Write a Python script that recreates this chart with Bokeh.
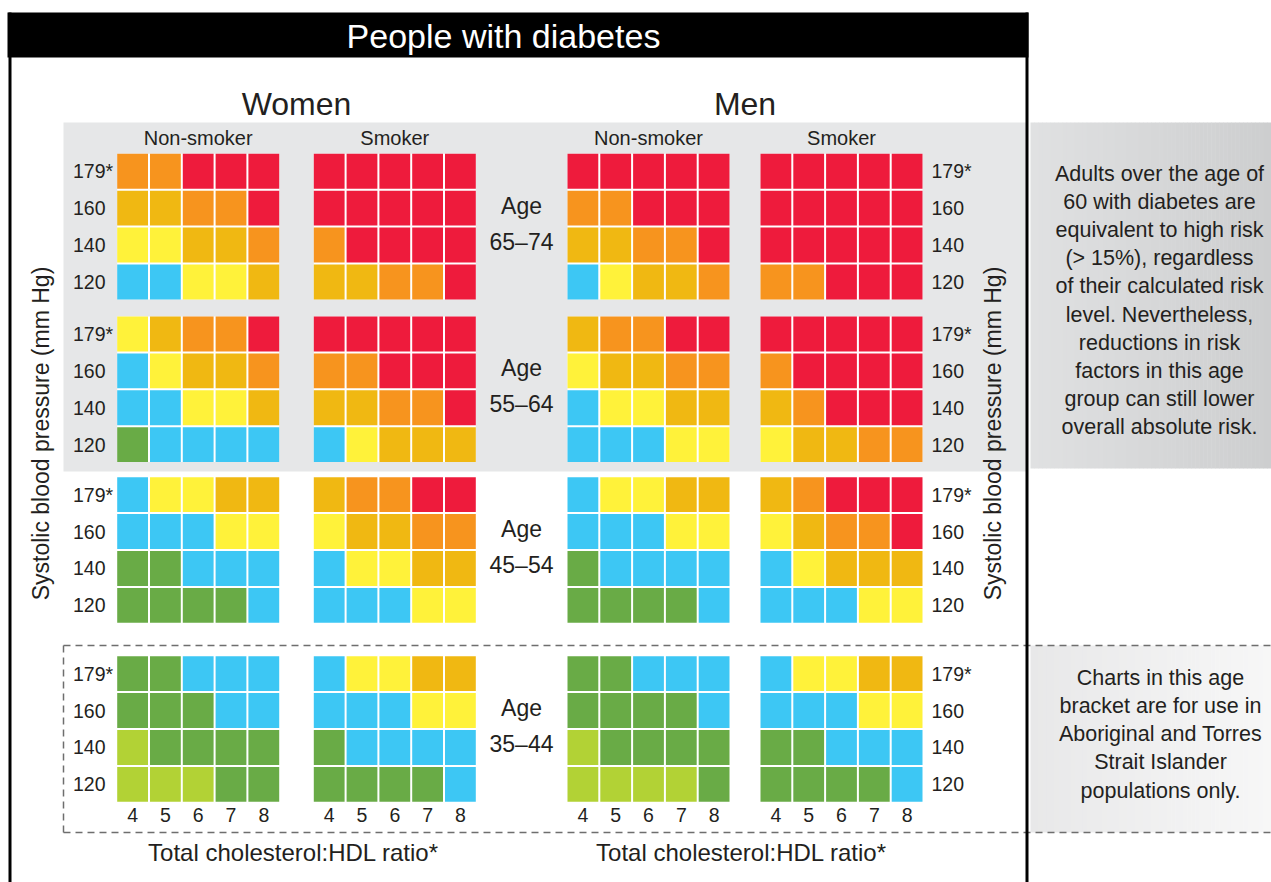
import numpy as np
from bokeh.plotting import figure
from bokeh.models import ColumnDataSource, Range1d
from bokeh.embed import file_html
from bokeh.resources import INLINE
from bokeh.core.properties import value

# ---------------- data ----------------
ages = ["65–74", "55–64", "45–54", "35–44"]
sexes = ["Women", "Men"]
smoking = ["Non-smoker", "Smoker"]
bp_labels = ["179*", "160", "140", "120"]
ratio_labels = ["4", "5", "6", "7", "8"]
# risk level index -> colour (0 lowest ... 6 highest)
risk_colors = ["#b2d235", "#69ab46", "#3dc7f4", "#fff23a", "#f0b812", "#f7941e", "#ee1b3c"]

# rows: 179*, 160, 140, 120 ; columns: ratio 4..8
women_ns_65 = [[5, 5, 6, 6, 6], [4, 4, 5, 5, 6], [3, 3, 4, 4, 5], [2, 2, 3, 3, 4]]
women_s_65 = [[6, 6, 6, 6, 6], [6, 6, 6, 6, 6], [5, 6, 6, 6, 6], [4, 4, 5, 5, 6]]
men_ns_65 = [[6, 6, 6, 6, 6], [5, 5, 6, 6, 6], [4, 4, 5, 5, 6], [2, 3, 4, 4, 5]]
men_s_65 = [[6, 6, 6, 6, 6], [6, 6, 6, 6, 6], [6, 6, 6, 6, 6], [5, 5, 6, 6, 6]]

women_ns_55 = [[3, 4, 5, 5, 6], [2, 3, 4, 4, 5], [2, 2, 3, 3, 4], [1, 2, 2, 2, 2]]
women_s_55 = [[6, 6, 6, 6, 6], [5, 5, 6, 6, 6], [4, 4, 5, 5, 6], [2, 3, 4, 4, 4]]
men_ns_55 = [[4, 5, 5, 6, 6], [3, 4, 4, 5, 5], [2, 3, 3, 4, 4], [2, 2, 2, 3, 3]]
men_s_55 = [[6, 6, 6, 6, 6], [5, 6, 6, 6, 6], [4, 5, 6, 6, 6], [3, 4, 4, 5, 5]]

women_ns_45 = [[2, 3, 3, 4, 4], [2, 2, 2, 3, 3], [1, 1, 2, 2, 2], [1, 1, 1, 1, 2]]
women_s_45 = [[4, 5, 5, 6, 6], [3, 4, 4, 5, 5], [2, 3, 3, 4, 4], [2, 2, 2, 3, 3]]
men_ns_45 = [[2, 3, 3, 4, 4], [2, 2, 2, 3, 3], [1, 2, 2, 2, 2], [1, 1, 1, 1, 2]]
men_s_45 = [[4, 5, 6, 6, 6], [3, 4, 5, 5, 6], [2, 3, 4, 4, 4], [2, 2, 2, 3, 3]]

women_ns_35 = [[1, 1, 2, 2, 2], [1, 1, 1, 2, 2], [0, 1, 1, 1, 1], [0, 0, 0, 1, 1]]
women_s_35 = [[2, 3, 3, 4, 4], [2, 2, 2, 3, 3], [1, 2, 2, 2, 2], [1, 1, 1, 1, 2]]
men_ns_35 = [[1, 1, 2, 2, 2], [1, 1, 1, 1, 2], [0, 1, 1, 1, 1], [0, 0, 0, 0, 1]]
men_s_35 = [[2, 3, 3, 4, 4], [2, 2, 2, 3, 3], [1, 1, 2, 2, 2], [1, 1, 1, 1, 2]]

panels = [
    [women_ns_65, women_s_65, men_ns_65, men_s_65],
    [women_ns_55, women_s_55, men_ns_55, men_s_55],
    [women_ns_45, women_s_45, men_ns_45, men_s_45],
    [women_ns_35, women_s_35, men_ns_35, men_s_35],
]

title = "People with diabetes"
y_title = "Systolic blood pressure (mm Hg)"
x_title = "Total cholesterol:HDL ratio*"
note_upper = ["Adults over the age of", "60 with diabetes are", "equivalent to high risk",
              "(> 15%), regardless", "of their calculated risk", "level. Nevertheless,",
              "reductions in risk", "factors in this age", "group can still lower",
              "overall absolute risk."]
note_lower = ["Charts in this age", "bracket are for use in", "Aboriginal and Torres",
              "Strait Islander", "populations only."]

# ---------------- layout ----------------
W, H = 1271, 882
FONT = value("Liberation Sans")
TXT = "#231f20"
panel_x = [116.7, 313.3, 567.0, 760.0]
panel_y = [153.3, 316.0, 476.7, 655.7]
PX, PY, GAP = 32.8, 36.9, 2.0


def Y(v):
    return -v


p = figure(width=W, height=H, x_range=Range1d(0, W), y_range=Range1d(-H, 0),
           output_backend="svg", toolbar_location=None, x_axis_location=None,
           y_axis_location=None, min_border=0, outline_line_color=None,
           background_fill_color="white", border_fill_color="white")
p.grid.visible = False

# grey band behind the older age groups
p.quad(left=[63], right=[1027], top=[Y(122)], bottom=[Y(471)], fill_color="#e6e7e8", line_color=None)


def gradient(x0, x1, y0, y1, c0, c1, n=60):
    c0 = np.array([int(c0[i:i + 2], 16) for i in (1, 3, 5)], float)
    c1 = np.array([int(c1[i:i + 2], 16) for i in (1, 3, 5)], float)
    xs = np.linspace(x0, x1, n + 1)
    cols = []
    for k in range(n):
        t = k / (n - 1)
        c = c0 + (c1 - c0) * t
        cols.append("#%02x%02x%02x" % tuple(int(round(v)) for v in c))
    p.quad(left=xs[:-1], right=xs[1:] + 0.5, top=[Y(y0)] * n, bottom=[Y(y1)] * n,
           fill_color=cols, line_color=None)


gradient(1030, 1271, 122, 468, "#e0e1e2", "#cdcecf")
gradient(1030, 1271, 645, 832, "#e8e8e9", "#f7f7f7")

# dashed box around 35-44
dash = dict(line_color="#6e6e6e", line_width=1.5, line_dash="7 5")
p.line(x=[63, 1271], y=[Y(645), Y(645)], **dash)
p.line(x=[63, 1271], y=[Y(832), Y(832)], **dash)
p.line(x=[63, 63], y=[Y(645), Y(832)], **dash)

# frame and header
p.quad(left=[7], right=[1028], top=[Y(12)], bottom=[Y(57)], fill_color="black", line_color=None)
p.line(x=[9.5, 9.5], y=[Y(12), Y(890)], line_color="black", line_width=3)
p.line(x=[1026.5, 1026.5], y=[Y(12), Y(890)], line_color="black", line_width=3)

# cells
bg = dict(left=[], right=[], top=[], bottom=[])
cells = dict(left=[], right=[], top=[], bottom=[], color=[])
for ai in range(len(ages)):
    for gi in range(4):
        grid = panels[ai][gi]
        x0, y0 = panel_x[gi], panel_y[ai]
        nr, nc = len(grid), len(grid[0])
        bg["left"].append(x0)
        bg["right"].append(x0 + (nc - 1) * PX + PX - GAP)
        bg["top"].append(Y(y0))
        bg["bottom"].append(Y(y0 + (nr - 1) * PY + PY - GAP))
        for r in range(nr):
            for c in range(nc):
                l = x0 + c * PX
                t = y0 + r * PY
                cells["left"].append(l)
                cells["right"].append(l + PX - GAP)
                cells["top"].append(Y(t))
                cells["bottom"].append(Y(t + PY - GAP))
                cells["color"].append(risk_colors[grid[r][c]])
p.quad(source=ColumnDataSource(bg), left="left", right="right", top="top", bottom="bottom",
       fill_color="white", line_color=None)
p.quad(source=ColumnDataSource(cells), left="left", right="right", top="top", bottom="bottom",
       fill_color="color", line_color=None)


def texts(xs, ys, labels, size, color=TXT, align="center", angle=0.0):
    p.text(x=xs, y=ys, text=labels, text_font=FONT, text_font_size=size, text_color=color,
           text_align=align, text_baseline="middle", angle=angle)


# title and headers
texts([503], [Y(35)], [title], "34px", color="white")
pw = 4 * PX + PX - GAP
texts([(panel_x[0] + panel_x[1] + pw) / 2, (panel_x[2] + panel_x[3] + pw) / 2], [Y(103), Y(103)], sexes, "32px")
texts([x + pw / 2 for x in panel_x], [Y(137)] * 4, smoking * 2, "20px")

# blood pressure labels
for ai in range(len(ages)):
    ys = [Y(panel_y[ai] + r * PY + (PY - GAP) / 2) for r in range(len(bp_labels))]
    texts([72.5] * 4, ys, bp_labels, "19.5px", align="left")
    texts([931] * 4, ys, bp_labels, "19.5px", align="left")
    cy = panel_y[ai] + (3 * PY + PY - GAP) / 2
    texts([521, 521], [Y(cy - 21), Y(cy + 15)], ["Age", ages[ai]], "23px")

# ratio labels
for gi in range(4):
    xs = [panel_x[gi] + c * PX + (PX - GAP) / 2 for c in range(len(ratio_labels))]
    texts(xs, [Y(814)] * 5, ratio_labels, "19.5px")
texts([293, 741], [Y(852), Y(852)], [x_title, x_title], "24px")

# axis titles
texts([40, 992], [Y(433), Y(433)], [y_title, y_title], "23px", angle=np.pi / 2)

# notes
texts([1159] * len(note_upper), [Y(173 + 28.2 * i) for i in range(len(note_upper))], note_upper, "21.5px")
texts([1160] * len(note_lower), [Y(677 + 28.3 * i) for i in range(len(note_lower))], note_lower, "21.5px")

open("out.html", "w").write(file_html(p, INLINE))
